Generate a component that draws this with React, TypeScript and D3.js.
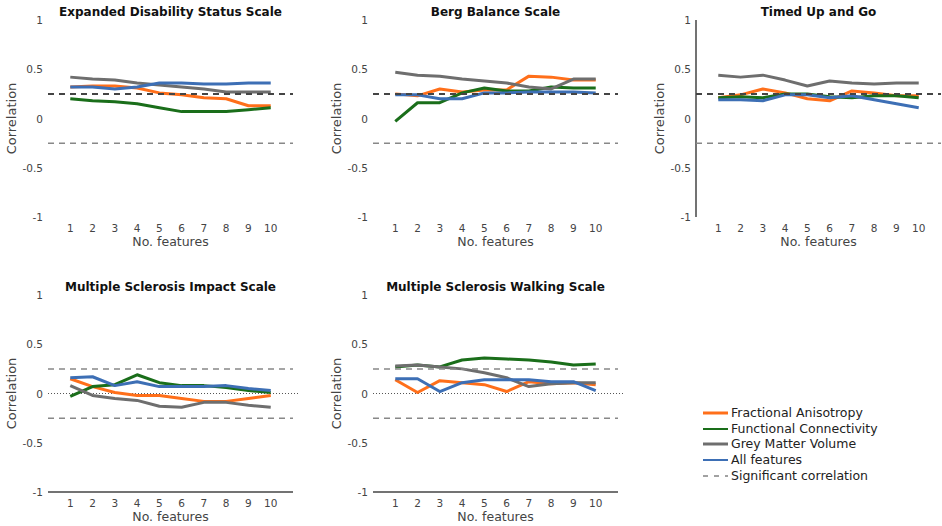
import React from 'react';
import * as d3 from 'd3';

const features = [1, 2, 3, 4, 5, 6, 7, 8, 9, 10];
const yTicks = [1, 0.5, 0, -0.5, -1];
const yTickLabels = ['1', '0.5', '0', '-0.5', '-1'];
const sigLevel = 0.25;

const seriesNames = ['Fractional Anisotropy', 'Functional Connectivity', 'Grey Matter Volume', 'All features'];
const seriesColors = ['#ff6f1a', '#1a6e1a', '#6e6e6e', '#3d6fb5'];

// EDSS
const edssFA = [0.32, 0.33, 0.33, 0.31, 0.26, 0.24, 0.21, 0.2, 0.13, 0.13];
const edssFC = [0.2, 0.18, 0.17, 0.15, 0.11, 0.07, 0.07, 0.07, 0.09, 0.11];
const edssGM = [0.42, 0.4, 0.39, 0.36, 0.34, 0.32, 0.3, 0.27, 0.27, 0.27];
const edssAll = [0.32, 0.32, 0.3, 0.32, 0.36, 0.36, 0.35, 0.35, 0.36, 0.36];

// Berg
const bergFA = [0.25, 0.23, 0.3, 0.27, 0.29, 0.29, 0.43, 0.42, 0.39, 0.39];
const bergFC = [-0.03, 0.16, 0.16, 0.26, 0.31, 0.28, 0.28, 0.32, 0.31, 0.31];
const bergGM = [0.47, 0.44, 0.43, 0.4, 0.38, 0.36, 0.32, 0.3, 0.4, 0.4];
const bergAll = [0.24, 0.24, 0.2, 0.2, 0.26, 0.26, 0.27, 0.27, 0.27, 0.26];

// TUG
const tugFA = [0.21, 0.24, 0.3, 0.26, 0.2, 0.18, 0.28, 0.26, 0.23, 0.23];
const tugFC = [0.21, 0.22, 0.21, 0.25, 0.25, 0.22, 0.21, 0.23, 0.23, 0.21];
const tugGM = [0.44, 0.42, 0.44, 0.39, 0.33, 0.38, 0.36, 0.35, 0.36, 0.36];
const tugAll = [0.19, 0.19, 0.18, 0.24, 0.24, 0.21, 0.23, 0.19, 0.15, 0.11];

// MSIS
const msisFA = [0.15, 0.07, 0.01, -0.02, -0.02, -0.05, -0.08, -0.08, -0.05, -0.02];
const msisFC = [-0.03, 0.07, 0.09, 0.19, 0.11, 0.08, 0.08, 0.06, 0.03, 0.01];
const msisGM = [0.08, -0.02, -0.05, -0.07, -0.13, -0.14, -0.09, -0.09, -0.12, -0.14];
const msisAll = [0.16, 0.17, 0.08, 0.12, 0.07, 0.07, 0.07, 0.08, 0.05, 0.03];

// MSWS
const mswsFA = [0.14, 0.01, 0.13, 0.11, 0.09, 0.02, 0.12, 0.1, 0.11, 0.09];
const mswsFC = [0.27, 0.29, 0.27, 0.34, 0.36, 0.35, 0.34, 0.32, 0.29, 0.3];
const mswsGM = [0.28, 0.29, 0.27, 0.25, 0.21, 0.16, 0.07, 0.1, 0.11, 0.11];
const mswsAll = [0.15, 0.15, 0.02, 0.11, 0.14, 0.14, 0.14, 0.12, 0.12, 0.03];

const panels = [
  { title: 'Expanded Disability Status Scale', series: [edssFA, edssFC, edssGM, edssAll], col: 0, row: 0 },
  { title: 'Berg Balance Scale', series: [bergFA, bergFC, bergGM, bergAll], col: 1, row: 0 },
  { title: 'Timed Up and Go', series: [tugFA, tugFC, tugGM, tugAll], col: 2, row: 0 },
  { title: 'Multiple Sclerosis Impact Scale', series: [msisFA, msisFC, msisGM, msisAll], col: 0, row: 1 },
  { title: 'Multiple Sclerosis Walking Scale', series: [mswsFA, mswsFC, mswsGM, mswsAll], col: 1, row: 1 },
];

const colLeft = [48, 373, 696];
const panelW = 245;
const rowTop = [20, 295];
const panelH = 197;

const font = 'DejaVu Sans, sans-serif';

const Panel = ({ p }: { p: typeof panels[number] }) => {
  const left = colLeft[p.col];
  const top = rowTop[p.row];
  const x = d3.scaleLinear().domain([0, 11]).range([left, left + panelW]);
  const y = d3.scaleLinear().domain([-1, 1]).range([top + panelH, top]);
  const line = d3.line<number>().x((_, i) => x(features[i])).y(d => y(d));
  const cx = left + panelW / 2;
  const bottom = y(-1);

  return (
    <g>
      <text x={cx} y={top - 4} textAnchor="middle" fontFamily={font} fontSize={12} fontWeight="bold" fill="#111">
        {p.title}
      </text>
      {yTicks.map((t, i) => (
        <text key={t} x={left - 5} y={y(t) + 4} textAnchor="end" fontFamily={font} fontSize={10.5} fill="#444">
          {yTickLabels[i]}
        </text>
      ))}
      <text
        transform={`translate(${left - 32},${y(0)}) rotate(-90)`}
        textAnchor="middle"
        fontFamily={font}
        fontSize={13}
        fill="#444"
      >
        Correlation
      </text>
      {features.map(f => (
        <text key={f} x={x(f)} y={bottom + 15} textAnchor="middle" fontFamily={font} fontSize={10.5} fill="#444">
          {f}
        </text>
      ))}
      <text x={x(5.5)} y={bottom + 29} textAnchor="middle" fontFamily={font} fontSize={12.5} fill="#444">
        No. features
      </text>
      {p.col === 2 && <line x1={left} x2={left} y1={top} y2={bottom} stroke="#444" strokeWidth={1.5} />}
      {p.row === 1 && <line x1={left} x2={left + panelW} y1={bottom} y2={bottom} stroke="#444" strokeWidth={1.5} />}
      {p.row === 1 && (
        <line x1={left} x2={left + panelW + 5} y1={y(0)} y2={y(0)} stroke="#555" strokeWidth={1} strokeDasharray="1,2" />
      )}
      <line x1={left} x2={left + panelW} y1={y(-sigLevel)} y2={y(-sigLevel)} stroke="#888" strokeWidth={1.5} strokeDasharray="6,5" />
      {p.series.map((s, i) => (
        <path key={i} d={line(s) || ''} fill="none" stroke={seriesColors[i]} strokeWidth={3} strokeLinejoin="round" />
      ))}
      <line
        x1={left}
        x2={left + panelW}
        y1={y(sigLevel)}
        y2={y(sigLevel)}
        stroke={p.row === 0 ? '#444' : '#888'}
        strokeWidth={p.row === 0 ? 2 : 1.5}
        strokeDasharray="6,5"
      />
    </g>
  );
};

const App = () => {
  const legendX = 703;
  const legendY = [413, 429, 444, 460, 476];
  return (
    <svg width={942} height={526} style={{ position: 'absolute', left: 0, top: 0, background: '#fff' }}>
      {panels.map(p => (
        <Panel key={p.title} p={p} />
      ))}
      <g>
        {seriesNames.map((n, i) => (
          <g key={n}>
            <line x1={legendX} x2={legendX + 25} y1={legendY[i]} y2={legendY[i]} stroke={seriesColors[i]} strokeWidth={i % 2 === 0 ? 3 : 2} />
            <text x={legendX + 28} y={legendY[i] + 4} fontFamily={font} fontSize={12.5} fill="#222">
              {n}
            </text>
          </g>
        ))}
        <line x1={legendX} x2={legendX + 25} y1={legendY[4]} y2={legendY[4]} stroke="#444" strokeWidth={1} strokeDasharray="5,6" />
        <text x={legendX + 28} y={legendY[4] + 4} fontFamily={font} fontSize={12.5} fill="#222">
          Significant correlation
        </text>
      </g>
    </svg>
  );
};

export default App;
